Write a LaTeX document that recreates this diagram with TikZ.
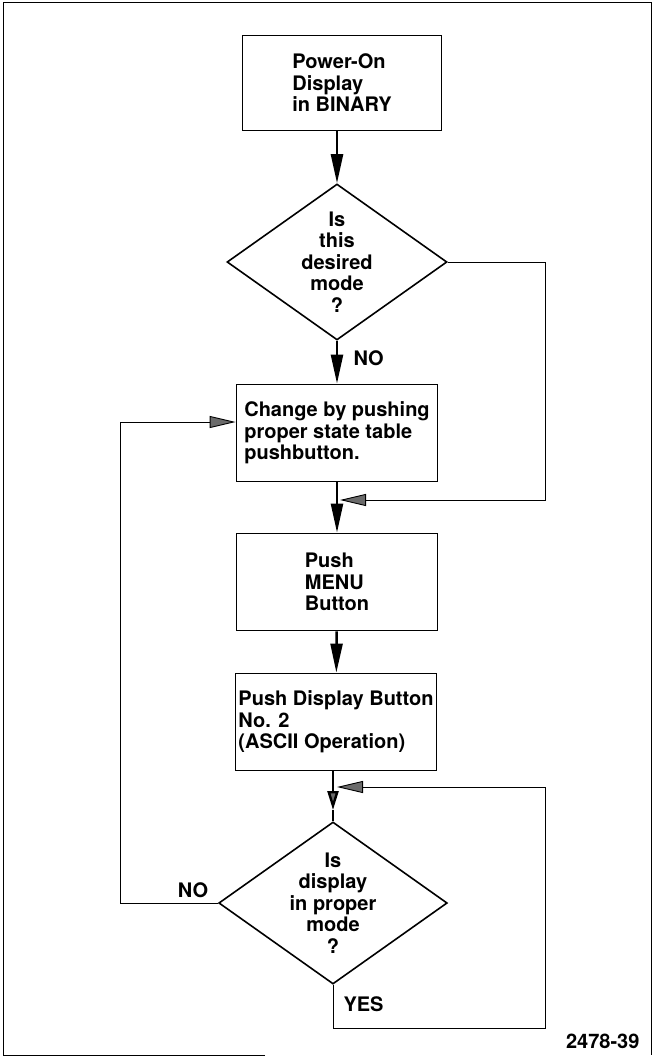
\documentclass[tikz,border=0pt]{standalone}
\usepackage{fontspec}
\setmainfont{TeX Gyre Heros}
\definecolor{scangray}{gray}{0.42}
\usetikzlibrary{arrows.meta,shapes.geometric}

\begin{document}
\begin{tikzpicture}[x=1pt,y=-1pt,
  txt/.style={font=\fontsize{20}{21.5}\selectfont\bfseries},
  box/.style={draw,line width=1.8pt,minimum width=201pt,minimum height=97pt,inner sep=1pt,
    align=left,txt},
  dec/.style={draw,diamond,aspect=1.41,line width=1.6pt,minimum width=220pt,minimum height=156pt,
    inner sep=0pt,align=center,txt},
  main/.style={line width=2.4pt},
  lp/.style={line width=0.9pt},
  arr/.style={-{Triangle[length=29pt,width=12pt]}},
  garr/.style={-{Triangle[length=26pt,width=12pt,fill=scangray]}},
  darr/.style={-{Triangle[length=19pt,width=11pt,fill=scangray]}}]
  \useasboundingbox (0,0) rectangle (655,1059);
  \draw[line width=1pt] (265,1055) -- (3,1055) -- (3,3) -- (651,3) -- (651,1055);
  \node[box,minimum width=199pt,minimum height=95pt] (pwr) at (342,83) {Power-On\\Display\\in BINARY};
  \node[dec] (ask1) at (337,262) {Is\\this\\desired\\mode\\?};
  \node[box] (chg) at (337,433) {Change by pushing\\proper state table\\pushbutton.};
  \node[box] (menu) at (337,582) {Push\\MENU\\Button};
  \node[box] (dsp) at (336,722) {Push Display Button\\No. 2\\(ASCII Operation)};
  \node[dec,minimum width=222pt,minimum height=162pt] (ask2) at (333,903)
    {Is\\display\\in proper\\mode\\?};
  \node[txt,anchor=west] (no1) at (350,358) {NO};
  \node[txt] (no2) at (193,890) {NO};
  \node[txt,anchor=west] (yes) at (340,1004) {YES};
  \node[txt,anchor=east] (fig) at (643,1041) {2478-39};
  \coordinate (j1) at (340,500);
  \coordinate (r1) at (545,500);
  \coordinate (l1) at (120,422);
  \coordinate (j2) at (337,787);
  \coordinate (k2) at (333,810);
  \coordinate (r2) at (545,1028);
  % main line
  \draw[main,arr] (pwr.south -| ask1.north) -- (ask1.north);
  \draw[main,arr] (ask1) -- (chg);
  \draw[main,arr] (chg) -- (menu);
  \draw[main,arr] (menu) -- (dsp);
  \draw[main,darr] (dsp.south -| ask2.north) -- (k2);
  \draw[main] (k2) -- (ask2.north);
  % loops
  \draw[lp,garr] (ask1.east) -| (r1) -- (j1);
  \draw[lp,garr] (ask2.west) -| (l1) -- (chg.west |- l1);
  \draw[lp,garr] (ask2.south) |- (r2) |- (j2);
\end{tikzpicture}
\end{document}
